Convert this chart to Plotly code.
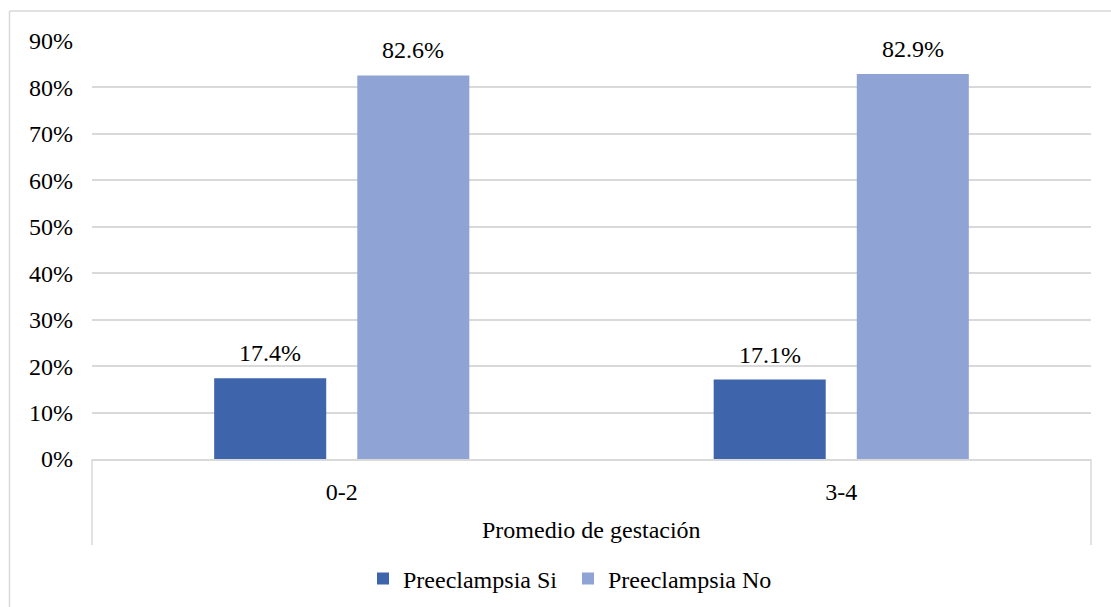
import plotly.graph_objects as go

# Data
categories = ["0-2", "3-4"]
preeclampsia_si = [0.174, 0.171]
preeclampsia_no = [0.826, 0.829]
series_names = ["Preeclampsia Si", "Preeclampsia No"]
axis_title = "Promedio de gestación"
y_ticks = [0, 0.1, 0.2, 0.3, 0.4, 0.5, 0.6, 0.7, 0.8, 0.9]
y_ticktext = [f"{int(round(v * 100))}%" for v in y_ticks]

FONT = "Liberation Serif"
FS = 24
W, H = 1111, 607
ML, MR, MT, MB = 92, 20, 41, 148
PW, PH = W - ML - MR, H - MT - MB

DARK = "#3E64AC"
LIGHT = "#8FA4D5"
GRID = "#D9D9D9"

BARGAP = 0.427
GROUPGAP = 0.217


def px_x(p):
    return (p - ML) / PW


def px_y(p):
    return (H - MB - p) / PH


def serif(size=FS):
    return dict(family=FONT, size=size, color="#000000")


fig = go.Figure()
series = [(series_names[0], preeclampsia_si, DARK),
          (series_names[1], preeclampsia_no, LIGHT)]
for name, vals, col in series:
    fig.add_trace(go.Bar(
        name=name, x=categories, y=vals,
        marker=dict(color=col, line=dict(width=0)),
    ))

# value labels above each bar, shifted onto the bar's slot in its group
cat_px = PW / len(categories)
slot_px = cat_px * (1 - BARGAP) / len(series)
annotations = []
for i, (name, vals, col) in enumerate(series):
    shift = (i - (len(series) - 1) / 2) * slot_px
    for c, v in zip(categories, vals):
        annotations.append(dict(
            x=c, y=v, xref="x", yref="y", text=f"{v * 100:.1f}%",
            showarrow=False, xanchor="center", yanchor="bottom",
            xshift=shift, yshift=10, font=serif(),
        ))

# outer category level label
annotations.append(dict(
    x=0.5, y=px_y(530), xref="paper", yref="paper", text=axis_title,
    showarrow=False, xanchor="center", yanchor="middle", font=serif(),
))

shapes = [
    # outer chart frame (top and left edges)
    dict(type="line", xref="paper", yref="paper", x0=px_x(9.5), x1=px_x(W + 5),
         y0=px_y(11), y1=px_y(11), line=dict(color=GRID, width=1.5)),
    dict(type="line", xref="paper", yref="paper", x0=px_x(9.5), x1=px_x(9.5),
         y0=px_y(11), y1=px_y(H + 5), line=dict(color=GRID, width=1.5)),
    # category axis dividers
    dict(type="line", xref="paper", yref="paper", x0=0, x1=0,
         y0=0, y1=px_y(545), line=dict(color=GRID, width=1.5)),
    dict(type="line", xref="paper", yref="paper", x0=1, x1=1,
         y0=0, y1=px_y(545), line=dict(color=GRID, width=1.5)),
]

fig.update_layout(
    template="none",
    width=W, height=H,
    margin=dict(l=ML, r=MR, t=MT, b=MB, autoexpand=False),
    paper_bgcolor="white", plot_bgcolor="white",
    font=serif(),
    barmode="group", bargap=BARGAP, bargroupgap=GROUPGAP,
    showlegend=True,
    legend=dict(orientation="h", x=px_x(363), xanchor="left",
                y=px_y(579), yanchor="middle", font=serif(),
                itemwidth=30, traceorder="normal",
                entrywidth=160, entrywidthmode="pixels",
                bgcolor="rgba(0,0,0,0)"),
    shapes=shapes,
    annotations=annotations,
    xaxis=dict(
        type="category", showgrid=False, showline=True, linecolor=GRID,
        linewidth=1.5, ticks="", ticklabelstandoff=10, automargin=False,
        zeroline=False, tickfont=serif(),
    ),
    yaxis=dict(
        range=[0, 0.9001], tickvals=y_ticks, ticktext=y_ticktext,
        showgrid=True, gridcolor=GRID, gridwidth=1.5,
        zeroline=False, showline=False, ticks="", automargin=False,
        ticklabelstandoff=18, tickfont=serif(),
    ),
)

fig.write_html("out.html")
